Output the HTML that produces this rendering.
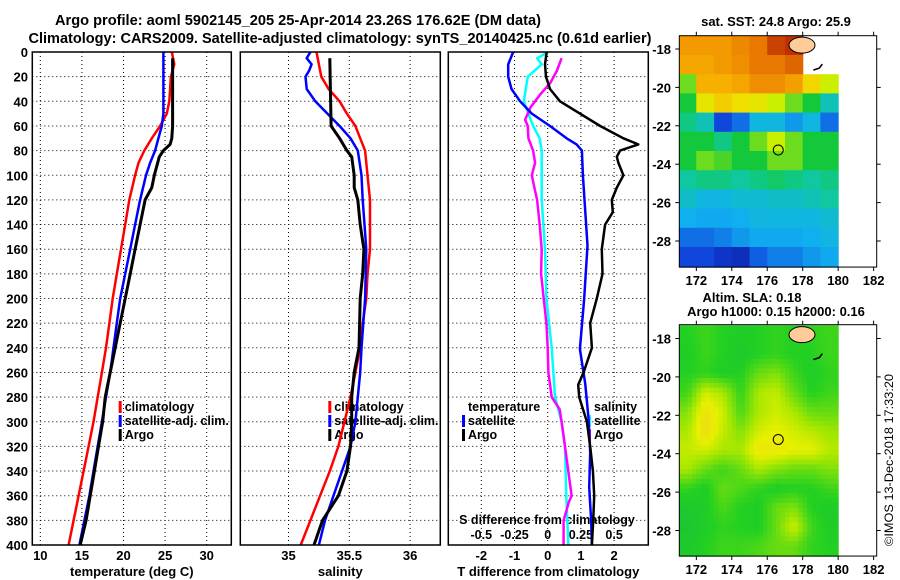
<!DOCTYPE html>
<html><head><meta charset="utf-8"><style>
html,body{margin:0;padding:0;background:#fff;}
svg{display:block;font-family:"Liberation Sans",sans-serif;font-weight:bold;}
</style></head><body>
<svg id="c" width="900" height="580" viewBox="0 0 900 580" xmlns="http://www.w3.org/2000/svg">
<rect width="900" height="580" fill="#fff"/>
<text x="298" y="25" font-size="14.5" text-anchor="middle" textLength="486" lengthAdjust="spacingAndGlyphs">Argo profile: aoml 5902145_205 25-Apr-2014 23.26S 176.62E (DM data)</text>
<text x="340" y="43" font-size="14.5" text-anchor="middle" textLength="623" lengthAdjust="spacingAndGlyphs">Climatology: CARS2009. Satellite-adjusted climatology: synTS_20140425.nc (0.61d earlier)</text>
<text x="776" y="26" font-size="13" text-anchor="middle">sat. SST: 24.8 Argo: 25.9</text>
<text x="752" y="302" font-size="13" text-anchor="middle">Altim. SLA: 0.18</text>
<text x="776" y="316" font-size="13" text-anchor="middle">Argo h1000: 0.15 h2000: 0.16</text>
<text transform="translate(893,460) rotate(-90)" font-size="12" font-weight="normal" text-anchor="middle" textLength="172" lengthAdjust="spacingAndGlyphs">©IMOS 13-Dec-2018 17:33:20</text>
<g id="layer"></g>
</svg>
<script>
// ---- profile data (depth in m) ----
const tempClimDepth=[0,10,20,40,50,60,70,80,90,100,120,140,160,180,200,220,240,260,280,300,320,340,360,380,400];
const tempClim=[25.8,26.1,25.7,25.5,25.2,24.4,23.4,22.5,21.8,21.4,20.7,20.2,19.7,19.2,18.7,18.3,17.9,17.4,16.9,16.4,15.8,15.2,14.6,14.0,13.4];
const tempSatDepth=[0,50,60,70,80,90,100,120,140,160,180,200,220,240,260,280,300,320,340,360,380,400];
const tempSat=[24.8,24.8,24.6,24.2,23.8,23.2,22.7,22.0,21.4,20.8,20.2,19.6,19.2,18.8,18.4,17.9,17.4,16.9,16.4,15.9,15.3,14.7];
const tempArgoDepth=[5,60,70,75,80,85,100,110,120,140,160,180,200,220,240,260,280,300,320,340,360,380,400];
const tempArgo=[25.9,25.9,25.8,25.6,24.8,24.3,23.7,23.4,22.6,22.0,21.4,20.8,20.2,19.6,19.0,18.4,17.8,17.5,17.0,16.5,16.0,15.5,14.8];

const salClimDepth=[0,20,30,40,50,60,70,80,100,120,140,160,180,200,220,240,260,280,300,320,340,360,380,400];
const salClim=[35.23,35.27,35.33,35.42,35.48,35.55,35.59,35.63,35.65,35.67,35.67,35.67,35.65,35.64,35.61,35.59,35.55,35.51,35.46,35.41,35.34,35.26,35.18,35.10];
const salSatDepth=[0,5,10,15,20,30,40,50,60,70,80,100,120,160,200,240,260,280,300,320,340,360,380,400];
const salSat=[35.18,35.15,35.19,35.17,35.14,35.15,35.22,35.32,35.42,35.51,35.57,35.60,35.61,35.64,35.63,35.60,35.59,35.57,35.55,35.51,35.44,35.37,35.30,35.25];
const salArgoDepth=[5,60,70,80,85,100,110,120,140,160,180,200,240,260,280,300,320,340,360,380,400];
const salArgo=[35.34,35.35,35.42,35.48,35.52,35.54,35.54,35.57,35.59,35.62,35.61,35.59,35.58,35.54,35.52,35.52,35.51,35.48,35.41,35.28,35.21];

const dTSatDepth=[0,10,20,30,40,50,60,70,75,80,100,157,200,241,269,297,325,353,381,400];
const dTSat=[-1.04,-1.19,-1.19,-1.09,-0.83,-0.48,0.07,0.57,0.87,1.03,1.06,1.2,1.1,0.97,1.13,1.23,1.28,1.25,1.31,1.33];
const dTArgoDepth=[0,10,20,30,40,50,60,70,75,80,85,90,100,110,120,130,140,160,180,200,220,240,260,270,280,300,320,340,360,380,400];
const dTArgo=[-0.03,-0.08,-0.05,0.07,0.37,0.97,1.58,2.28,2.73,2.18,2.08,2.13,2.28,2.08,1.93,1.96,1.73,1.63,1.65,1.48,1.28,1.33,1.08,0.92,0.95,1.18,1.28,1.36,1.40,1.37,1.33];
const dSSatDepth=[0,5,10,20,40,60,70,80,120,160,200,240,280,300,320,360,400];
const dSSat=[0.005,-0.08,-0.045,-0.15,-0.18,-0.11,-0.06,-0.045,-0.045,-0.02,-0.01,0.03,0.055,0.105,0.13,0.14,0.155];
const dSArgoDepth=[5,15,25,35,45,55,60,70,80,90,100,110,120,140,160,180,200,220,240,260,280,290,300,320,340,360,365,380,400];
const dSArgo=[0.105,0.07,0.02,-0.06,-0.13,-0.17,-0.15,-0.145,-0.11,-0.095,-0.12,-0.1,-0.08,-0.06,-0.045,-0.05,-0.03,-0.01,0,0.005,0.03,0.09,0.105,0.13,0.155,0.18,0.16,0.12,0.12];

const depthTicks=[0,20,40,60,80,100,120,140,160,180,200,220,240,260,280,300,320,340,360,380,400];
const tempTicks=[10,15,20,25,30];
const salTicks=[35,35.5,36];
const dTTicks=[-2,-1,0,1,2];
const dSTicks=[-0.5,-0.25,0,0.25,0.5];
const dSTickLabels=["-0.5","-0.25","0","0.25","0.5"];

// ---- map data (rows top->bottom 1 deg lat from -17.3, cols 1 deg lon from 171) ----
const mapLonTicks=[172,174,176,178,180,182];
const mapLatTicks=[-18,-20,-22,-24,-26,-28];
const sstGrid=[
[0.76,0.76,0.76,0.79,0.82,0.88,0.90,null,null],
[0.74,0.74,0.76,0.78,0.82,0.82,0.84,null,null],
[0.50,0.72,0.72,0.74,0.78,0.78,0.75,0.64,0.56],
[0.45,0.60,0.66,0.62,0.60,0.55,0.50,0.45,0.35],
[0.40,0.35,0.15,0.20,0.30,0.30,0.25,0.30,0.20],
[0.45,0.45,0.40,0.45,0.50,0.55,0.50,0.45,0.45],
[0.45,0.50,0.48,0.45,0.45,0.50,0.50,0.45,0.45],
[0.38,0.40,0.40,0.38,0.40,0.42,0.40,0.38,0.40],
[0.33,0.30,0.30,0.32,0.32,0.33,0.33,0.35,0.38],
[0.28,0.27,0.27,0.28,0.30,0.30,0.30,0.30,0.32],
[0.20,0.20,0.22,0.25,0.27,0.27,0.27,0.28,0.30],
[0.15,0.15,0.10,0.08,0.18,0.22,0.22,0.25,0.27]];
const slaGrid=[
[0.45,0.47,0.45,0.44,0.45,0.46,0.45,0.46,0.47],
[0.44,0.47,0.45,0.43,0.45,0.46,0.45,0.45,0.47],
[0.45,0.46,0.44,0.45,0.50,0.52,0.47,0.44,0.46],
[0.47,0.58,0.55,0.46,0.55,0.57,0.50,0.45,0.47],
[0.52,0.63,0.58,0.48,0.55,0.58,0.55,0.50,0.50],
[0.55,0.64,0.57,0.52,0.58,0.60,0.58,0.56,0.54],
[0.57,0.58,0.55,0.55,0.62,0.62,0.60,0.60,0.56],
[0.55,0.50,0.47,0.50,0.55,0.52,0.50,0.50,0.52],
[0.46,0.44,0.50,0.48,0.46,0.44,0.45,0.45,0.47],
[0.43,0.44,0.48,0.45,0.44,0.50,0.52,0.45,0.44],
[0.42,0.44,0.46,0.45,0.44,0.50,0.58,0.47,0.44],
[0.43,0.45,0.47,0.47,0.48,0.50,0.50,0.46,0.45]];
const argoLon=176.62, argoLat=-23.26;

const NS="http://www.w3.org/2000/svg";
const L=document.getElementById('layer');
function mk(tag,attrs,parent){const e=document.createElementNS(NS,tag);for(const k in attrs)e.setAttribute(k,attrs[k]);(parent||L).appendChild(e);return e;}
function txt(x,y,s,anchor,size,parent){const t=mk('text',{x:x,y:y,'font-size':size||13,'text-anchor':anchor||'middle'},parent);t.textContent=s;return t;}

const TOP=52,BOT=545;
const yD=d=>TOP+d*(BOT-TOP)/400;
const xT=v=>40.3+(v-10)*8.32;
const xS=v=>349.3+(v-35.5)*121.6;
const xdT=v=>547.7+v*33.2;
const xdS=v=>547.7+v*132.8;

function panel(name,x0,x1,xfun,ticks,tickLabels,title,showTickLabels){
  const g=mk('g',{});
  
  
  depthTicks.forEach(d=>{const l=mk('line',{x1:x0,x2:x1,y1:yD(d),y2:yD(d),stroke:'#000','stroke-width':1,'stroke-dasharray':'1,3'},g);
    });
  ticks.forEach((t,i)=>{const l=mk('line',{x1:xfun(t),x2:xfun(t),y1:TOP,y2:BOT,stroke:'#000','stroke-width':1,'stroke-dasharray':'1,3'},g);
    
    if(showTickLabels){const tl=txt(xfun(t),560,tickLabels[i],'middle',13,g);
      }});
  const tt=txt((x0+x1)/2,576,title,'middle',13,g);
  
  return g;
}
function frame(name,x0,x1){const r=mk('rect',{x:x0,y:TOP,width:x1-x0,height:BOT-TOP,fill:'none',stroke:'#000','stroke-width':1.5});
  }
function series(name,depths,vals,xf,color,w){
  const d=depths.map((dd,i)=>(i?'L':'M')+xf(vals[i]).toFixed(1)+','+yD(dd).toFixed(1)).join(' ');
  const p=mk('path',{d:d,fill:'none',stroke:color,'stroke-width':w,'stroke-linejoin':'round'});
  
}
function legend(x,y,color,label,name){
  if(color){const b=mk('rect',{x:x-6,y:y-10,width:3,height:12,fill:color});
    }
  const t=txt(x,y,label,'start',12.5);
  
}

depthTicks.forEach(d=>{const t=txt(28,yD(d)+5,String(d),'end',13);
  });

panel('temperature-panel',32.3,231.3,xT,tempTicks,tempTicks.map(String),'temperature (deg C)',true);
legend(124.7,411,'#f00','climatology','legend-climatology');
legend(124.7,425,'#00f','satellite-adj. clim.','legend-satellite-adj');
legend(124.7,439,'#000','Argo','legend-argo');
series('temp-climatology-line',tempClimDepth,tempClim,xT,'#f00',2.5);
series('temp-satellite-line',tempSatDepth,tempSat,xT,'#00f',2.5);
series('temp-argo-line',tempArgoDepth,tempArgo,xT,'#000',3);
frame('temperature-panel-frame',32.3,231.3);

panel('salinity-panel',240.3,440.3,xS,salTicks,['35','35.5','36'],'salinity',true);
legend(334.3,411,'#f00','climatology','legend-sal-climatology');
legend(334.3,425,'#00f','satellite-adj. clim.','legend-sal-satellite-adj');
legend(334.3,439,'#000','Argo','legend-sal-argo');
series('sal-climatology-line',salClimDepth,salClim,xS,'#f00',2.5);
series('sal-satellite-line',salSatDepth,salSat,xS,'#00f',2.5);
series('sal-argo-line',salArgoDepth,salArgo,xS,'#000',3);
frame('salinity-panel-frame',240.3,440.3);

panel('difference-panel',448.3,648.3,xdT,dTTicks,dTTicks.map(String),'T difference from climatology',true);
legend(468,411,null,'temperature','legend-temperature-header');
legend(468,425,'#00f','satellite','legend-t-satellite');
legend(468,439,'#000','Argo','legend-t-argo');
legend(594,411,null,'salinity','legend-salinity-header');
legend(594,425,'#0ff','satellite','legend-s-satellite');
legend(594,439,'#f0f','Argo','legend-s-argo');
{const t=txt(547,524,'S difference from climatology','middle',12.5);
 }
dSTicks.forEach((v,i)=>{const t=txt(xdS(v),539,dSTickLabels[i],'middle',12.5);
  });
series('dS-satellite-line',dSSatDepth,dSSat,xdS,'#0ff',2.5);
series('dS-argo-line',dSArgoDepth,dSArgo,xdS,'#f0f',2.5);
series('dT-satellite-line',dTSatDepth,dTSat,xdT,'#00f',2.5);
series('dT-argo-line',dTArgoDepth,dTArgo,xdT,'#000',2.5);
frame('difference-panel-frame',448.3,648.3);

// ---- maps ----
function lerpC(stops,v){
  if(v<=stops[0][0])return stops[0][1];
  for(let i=1;i<stops.length;i++){if(v<=stops[i][0]){const a=stops[i-1],b=stops[i],f=(v-a[0])/(b[0]-a[0]);
    const ca=a[1],cb=b[1];return ca.map((c,k)=>Math.round(c+(cb[k]-c)*f));}}
  return stops[stops.length-1][1];
}
const sstStops=[[0,[10,20,150]],[0.15,[16,70,220]],[0.28,[16,176,240]],[0.38,[16,200,160]],[0.45,[20,200,60]],[0.55,[200,240,0]],[0.62,[240,224,0]],[0.72,[248,176,0]],[0.82,[232,120,0]],[0.9,[192,48,0]],[1,[160,0,0]]];
const slaStops=[[0.4,[24,190,60]],[0.45,[34,208,34]],[0.55,[170,232,0]],[0.6,[232,240,0]],[0.66,[240,208,32]]];
const MX0=679.3,MX1=876.7,LON0=171.04,PXLON=17.73,PXLAT=19.2;
function sample(grid,fi,fj,smooth){
  const R=grid.length,C=grid[0].length;
  if(!smooth){const i=Math.min(R-1,Math.max(0,Math.floor(fi))),j=Math.min(C-1,Math.max(0,Math.floor(fj)));return grid[i][j];}
  let ci=Math.min(R-1,Math.max(0,fi-0.5)),cj=Math.min(C-1,Math.max(0,fj-0.5));
  const i0=Math.floor(ci),j0=Math.floor(cj),i1=Math.min(R-1,i0+1),j1=Math.min(C-1,j0+1),a=ci-i0,b=cj-j0;
  return (grid[i0][j0]*(1-a)*(1-b)+grid[i1][j0]*a*(1-b)+grid[i0][j1]*(1-a)*b+grid[i1][j1]*a*b);
}
function drawMap(name,top,grid,stops,latRefY,step,smooth){
  const g=mk('g',{});
  
  const bot=top+(29.36-17.31)*PXLAT;
  const lx=lon=>MX0+(lon-LON0)*PXLON;
  const ly=lat=>latRefY+(-18-lat)*PXLAT;
  const R=grid.length,C=grid[0].length;
  for(let fi=0;fi<R;fi+=step){for(let fj=0;fj<C;fj+=step){
    const raw=grid[Math.floor(fi)][Math.floor(fj)];
    if(raw===null)continue;
    const v=sample(grid,fi+step/2,fj+step/2,smooth);
    const x0=Math.max(MX0,lx(171+fj)),x1=lx(171+fj+step);
    const y0=ly(-17.31-fi),y1=Math.min(bot,ly(-17.31-fi-step)+((fi+step>=R)?3:0));
    const c=lerpC(stops,v);
    const r=mk('rect',{x:x0.toFixed(1),y:y0.toFixed(1),width:(x1-x0+0.6).toFixed(1),height:(Math.min(bot,y1)-y0+0.6).toFixed(1),fill:'rgb('+c.join(',')+')'},g);
    
  }}
  const land=mk('ellipse',{cx:lx(177.96),cy:ly(-17.8),rx:13,ry:8,fill:'#ffcc99',stroke:'#000','stroke-width':1},g);
  
  const land2=mk('path',{d:`M${lx(178.6)},${ly(-19.1)} l6,-2 l3,-4`,fill:'none',stroke:'#000','stroke-width':1.5},g);
  
  const circ=mk('circle',{cx:lx(argoLon),cy:ly(argoLat),r:5,fill:'none',stroke:'#000','stroke-width':1},g);
  
  const fr=mk('rect',{x:MX0,y:top,width:MX1-MX0,height:bot-top,fill:'none',stroke:'#000','stroke-width':1},g);
  
  mapLonTicks.forEach(lon=>{
    mk('line',{x1:lx(lon),x2:lx(lon),y1:top-4,y2:top,stroke:'#000'},g);
    mk('line',{x1:lx(lon),x2:lx(lon),y1:bot,y2:bot+4,stroke:'#000'},g);
    const t=txt(lx(lon),bot+18,String(lon),'middle',13,g);
    });
  mapLatTicks.forEach(lat=>{
    mk('line',{x1:MX0-4,x2:MX0,y1:ly(lat),y2:ly(lat),stroke:'#000'},g);
    mk('line',{x1:MX1,x2:MX1+4,y1:ly(lat),y2:ly(lat),stroke:'#000'},g);
    const t=txt(671,ly(lat)+5,String(lat),'end',13,g);
    });
}
drawMap('sst-map',35.7,sstGrid,sstStops,49,1,false);
drawMap('sla-map',324.7,slaGrid,slaStops,338.5,0.25,true);
</script>
</body></html>
